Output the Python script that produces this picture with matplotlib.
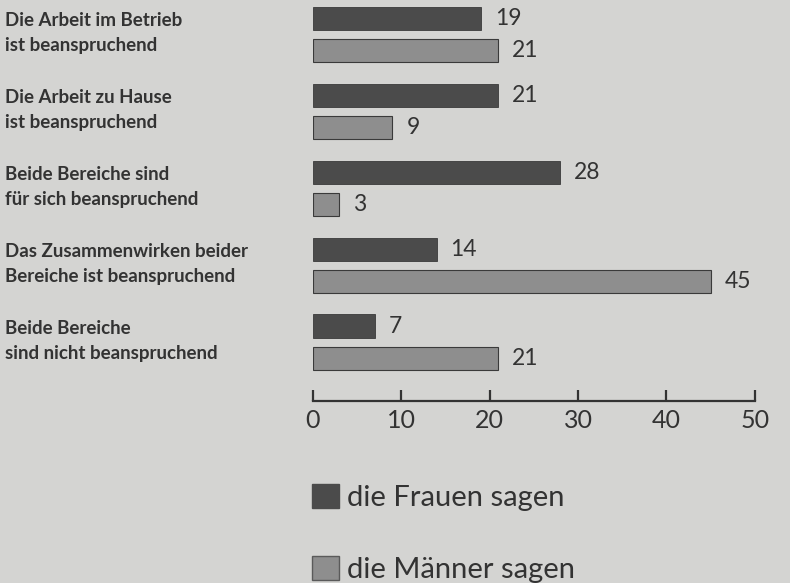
import matplotlib.pyplot as plt
import matplotlib.transforms as mtransforms
from matplotlib.patches import Patch
import numpy as np

# data
categories = ['Die Arbeit im Betrieb\nist beanspruchend',
              'Die Arbeit zu Hause\nist beanspruchend',
              'Beide Bereiche sind\nfür sich beanspruchend',
              'Das Zusammenwirken beider\nBereiche ist beanspruchend',
              'Beide Bereiche\nsind nicht beanspruchend']
frauen = [19, 21, 28, 14, 7]
maenner = [21, 9, 3, 45, 21]
series_labels = ['die Frauen sagen', 'die Männer sagen']

bg = '#d4d4d2'
dark = '#4b4b4b'
light = '#8e8e8e'
txt = '#333333'

plt.rcParams['font.family'] = ['Lato', 'DejaVu Sans']

fig = plt.figure(figsize=(7.9, 5.83), dpi=100, facecolor=bg)
ax = fig.add_axes([0.396, 0.312, 0.5595, 0.688], facecolor=bg)

y = np.arange(len(categories))
h = 0.31
off = 0.416
ax.barh(y, frauen, h, color=dark, edgecolor='#3a3a3a', linewidth=0.6)
ax.barh(y + off, maenner, h, color=light, edgecolor='#3a3a3a', linewidth=0.8)

for yy, v in zip(y, frauen):
    ax.annotate(str(v), (v, yy), xytext=(10, 0), textcoords='offset points',
                va='center', ha='left', fontsize=16.5, color=txt)
for yy, v in zip(y + off, maenner):
    ax.annotate(str(v), (v, yy), xytext=(10, 0), textcoords='offset points',
                va='center', ha='left', fontsize=16.5, color=txt)

# category labels at the left edge of the figure
trans = mtransforms.blended_transform_factory(fig.transFigure, ax.transData)
for yy, lab in zip(y, categories):
    ax.text(0.006, yy + off / 2 - 0.02, lab, transform=trans, ha='left', va='center',
            fontsize=13.5, fontweight='bold', color=txt, linespacing=1.6)

ax.set_xlim(0, 50)
ax.set_ylim(4.97, -0.24)
ax.set_xticks([0, 10, 20, 30, 40, 50])
ax.set_yticks([])
for s in ['top', 'right', 'left']:
    ax.spines[s].set_visible(False)
ax.spines['bottom'].set_color(txt)
ax.spines['bottom'].set_linewidth(1.6)
ax.tick_params(axis='x', direction='in', length=8, width=1.6, color=txt,
               labelsize=18, labelcolor=txt, pad=6)

handles = [Patch(facecolor=dark, edgecolor=dark), Patch(facecolor=light, edgecolor='#5a5a5a')]
fig.legend(handles, series_labels, loc='upper left', bbox_to_anchor=(0.377, 0.195),
           frameon=False, fontsize=21, handlelength=0.92, handleheight=0.92,
           handletextpad=0.28, labelspacing=1.52, borderpad=0, labelcolor=txt)

plt.savefig('out.png', dpi=100, facecolor=bg)
plt.close()
